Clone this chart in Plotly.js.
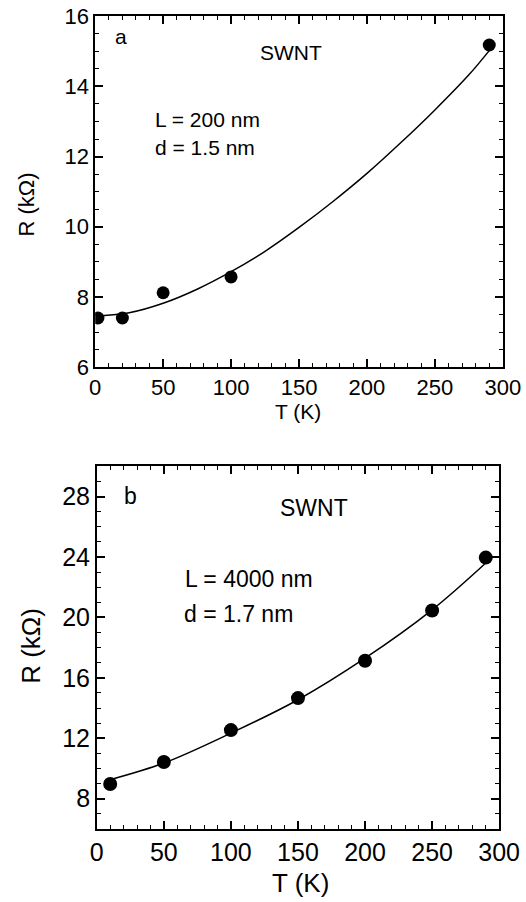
<!DOCTYPE html>
<html>
<head>
<meta charset="utf-8">
<script src="https://cdn.plot.ly/plotly-3.0.1.min.js"></script>
<style>html,body{margin:0;padding:0;background:#fff;}#chart{width:526px;height:902px;}</style>
</head>
<body>
<div id="chart"></div>
<script>
// Panel a data (L = 200 nm)
const tempA = [2, 20, 50, 100, 290];
const resA = [7.40, 7.40, 8.12, 8.57, 15.18];
// Panel a fitted curve
const fitTA = [2, 25, 50, 75, 100, 125, 150, 175, 200, 225, 250, 275, 290];
const fitRA = [7.46, 7.55, 7.82, 8.22, 8.72, 9.30, 9.98, 10.72, 11.52, 12.40, 13.33, 14.33, 15.02];

// Panel b data (L = 4000 nm)
const tempB = [10, 50, 100, 150, 200, 250, 290];
const resB = [8.97, 10.43, 12.54, 14.66, 17.13, 20.46, 23.96];
// Panel b fitted curve
const fitTB = [10, 50, 100, 150, 200, 250, 290];
const fitRB = [9.26, 10.36, 12.34, 14.55, 17.30, 20.50, 23.60];

const FONT = 'Liberation Sans, Arial, Helvetica, sans-serif';

const traces = [
  {x: tempA, y: resA, mode: 'markers', marker: {color: 'black', size: 13}, xaxis: 'x', yaxis: 'y'},
  {x: fitTA, y: fitRA, mode: 'lines', line: {color: 'black', width: 1.5, shape: 'spline'}, xaxis: 'x', yaxis: 'y'},
  {x: tempB, y: resB, mode: 'markers', marker: {color: 'black', size: 14}, xaxis: 'x2', yaxis: 'y2'},
  {x: fitTB, y: fitRB, mode: 'lines', line: {color: 'black', width: 1.5, shape: 'spline'}, xaxis: 'x2', yaxis: 'y2'}
];

function axis(fs, minorDtick) {
  return {
    ticks: 'inside', ticklen: 8, tickwidth: 1.5, tickcolor: 'black',
    showline: true, linewidth: 1.5, linecolor: 'black', mirror: 'ticks',
    gridcolor: '#ffffff',
    tickfont: {family: FONT, size: fs, color: 'black'},
    minor: {dtick: minorDtick, ticks: 'inside', ticklen: 4, tickwidth: 1.2, tickcolor: 'black'}
  };
}

const layout = {
  width: 526, height: 902,
  margin: {l: 0, r: 0, t: 0, b: 0},
  paper_bgcolor: '#fff', plot_bgcolor: '#fff',
  showlegend: false,
  font: {family: FONT, color: 'black'},
  xaxis: Object.assign(axis(22, 10), {domain: [0.181, 0.956], anchor: 'y', range: [0, 300], dtick: 50, tick0: 0, zeroline: false}),
  yaxis: Object.assign(axis(22, 0.5), {domain: [0.593, 0.982], anchor: 'x', range: [6, 16], dtick: 2, tick0: 0}),
  xaxis2: Object.assign(axis(25, 10), {domain: [0.184, 0.949], anchor: 'y2', range: [0, 300], dtick: 50, tick0: 0, zeroline: false}),
  yaxis2: Object.assign(axis(25, 1), {domain: [0.081, 0.483], anchor: 'x2', range: [6, 30], dtick: 4, tick0: 0}),
  annotations: [
    {text: 'T (K)', x: 0.567, y: 0.544, xref: 'paper', yref: 'paper', xanchor: 'center', yanchor: 'middle', showarrow: false, font: {size: 21}},
    {text: 'R (kΩ)', x: 0.051, y: 0.773, xref: 'paper', yref: 'paper', xanchor: 'center', yanchor: 'middle', textangle: -90, showarrow: false, font: {size: 22}},
    {text: 'T (K)', x: 0.572, y: 0.021, xref: 'paper', yref: 'paper', xanchor: 'center', yanchor: 'middle', showarrow: false, font: {size: 26}},
    {text: 'R (kΩ)', x: 0.059, y: 0.284, xref: 'paper', yref: 'paper', xanchor: 'center', yanchor: 'middle', textangle: -90, showarrow: false, font: {size: 26}},
    {text: 'a', x: 0.215, y: 0.960, xref: 'paper', yref: 'paper', xanchor: 'left', yanchor: 'middle', showarrow: false, font: {size: 21}},
    {text: 'SWNT', x: 0.553, y: 0.942, xref: 'paper', yref: 'paper', xanchor: 'center', yanchor: 'middle', showarrow: false, font: {size: 21}},
    {text: 'L = 200 nm', x: 0.291, y: 0.868, xref: 'paper', yref: 'paper', xanchor: 'left', yanchor: 'middle', showarrow: false, font: {size: 21}},
    {text: 'd = 1.5 nm', x: 0.291, y: 0.836, xref: 'paper', yref: 'paper', xanchor: 'left', yanchor: 'middle', showarrow: false, font: {size: 21}},
    {text: 'b', x: 0.232, y: 0.450, xref: 'paper', yref: 'paper', xanchor: 'left', yanchor: 'middle', showarrow: false, font: {size: 23}},
    {text: 'SWNT', x: 0.597, y: 0.437, xref: 'paper', yref: 'paper', xanchor: 'center', yanchor: 'middle', showarrow: false, font: {size: 23}},
    {text: 'L = 4000 nm', x: 0.348, y: 0.358, xref: 'paper', yref: 'paper', xanchor: 'left', yanchor: 'middle', showarrow: false, font: {size: 23}},
    {text: 'd = 1.7 nm', x: 0.346, y: 0.319, xref: 'paper', yref: 'paper', xanchor: 'left', yanchor: 'middle', showarrow: false, font: {size: 23}}
  ]
};

Plotly.newPlot('chart', traces, layout, {displayModeBar: false});
</script>
</body>
</html>
